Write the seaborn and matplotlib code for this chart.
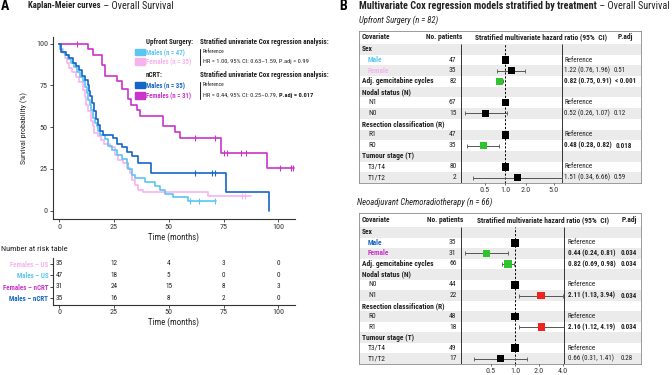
import numpy as np
import matplotlib
matplotlib.use('Agg')
import matplotlib.pyplot as plt
import seaborn as sns
from matplotlib import font_manager
from matplotlib.patches import Rectangle

sns.set_theme(style='ticks')
installed = {f.name for f in font_manager.fontManager.ttflist}
FONT = 'DejaVu Sans'
SCALE = 0.8
for cand in ['Liberation Sans Narrow', 'Roboto Condensed', 'Open Sans Condensed']:
    if cand in installed:
        FONT, SCALE = cand, 1.0
        break
plt.rcParams['font.family'] = [FONT, 'DejaVu Sans']
plt.rcParams['axes.edgecolor'] = '#333333'

# ---------------- data: Kaplan-Meier steps (months, survival %) ----------------
fus_time = [0, 0.4, 1.5, 2.5, 3.5, 4.5, 6.0, 7.5, 9.0, 10.7, 11.0, 11.7, 12.2, 13.2, 14.3,
            15.2, 15.8, 17.8, 19.0, 20.5, 23.2, 25.4, 26.9, 29.2, 30.8, 32.3, 33.1, 34.6,
            36.1, 38.4, 68.0]
fus_surv = [100, 97.1, 94.3, 91.4, 88.6, 85.7, 82.9, 80.0, 77.1, 76.4, 72.4, 68.3, 63.4, 59.4,
            53.4, 50.4, 46.4, 44.4, 42.4, 40.0, 38.4, 33.4, 30.4, 28.4, 25.4, 22.4, 18.4, 15.4,
            12.4, 11.4, 8.6]
fus_end = 87.4
fus_cens = [83.3, 84.8]

mus_time = [0, 0.3, 1.2, 2.5, 4.0, 5.3, 6.8, 7.9, 9.5, 10.7, 11.7, 12.5, 13.2, 14.0, 14.3,
            15.2, 15.5, 16.3, 17.1, 17.8, 18.6, 20.9, 22.4, 23.9, 26.2, 28.5, 30.8, 31.5,
            33.1, 34.6, 39.1, 43.7, 46.0, 48.3, 52.1, 58.9]
mus_surv = [100, 96.8, 95.3, 93.3, 90.7, 88.4, 86.3, 83.3, 80.3, 77.9, 74.3, 70.4, 66.4, 63.4,
            60.4, 58.4, 55.4, 52.4, 50.4, 47.4, 45.4, 42.8, 38.8, 36.4, 33.4, 30.8, 28.4, 24.8,
            21.4, 19.4, 17.4, 14.8, 12.4, 10.0, 8.0, 6.0]
mus_end = 71.5
mus_cens = [59.6, 63.9, 71.1]

fn_time = [0, 12.9, 15.2, 19.5, 21.0, 26.2, 28.6, 31.4, 32.9, 35.6, 36.8, 47.5, 52.8, 55.1,
           73.8, 94.7]
fn_surv = [100, 96.8, 93.5, 87.1, 80.6, 77.4, 72.8, 67.0, 63.0, 60.4, 56.4, 50.4, 46.8, 43.4,
           34.4, 25.8]
fn_end = 107.3
fn_cens = [8.2, 62.1, 71.1, 75.2, 76.4, 82.8, 85.3, 100.8, 105.7, 106.9]

mn_time = [0, 0.6, 3.1, 4.6, 6.1, 7.6, 8.8, 10.4, 11.9, 13.1, 13.7, 14.0, 14.9, 15.8, 16.8,
           17.7, 18.6, 19.8, 24.7, 26.2, 28.5, 30.8, 33.3, 35.8, 41.9, 76.1, 95.9]
mn_surv = [100, 95.3, 93.3, 91.4, 88.7, 86.7, 84.0, 80.8, 78.4, 75.4, 71.4, 68.6, 64.4, 59.4,
           54.8, 51.4, 47.4, 45.4, 43.4, 40.0, 38.0, 35.4, 32.8, 28.4, 22.8, 11.4, 0]
mn_end = 95.9
mn_cens = [62.0, 69.6, 71.1]

# number at risk table
risk_times = [0, 25, 50, 75, 100]
risk_labels = ['Females – US', 'Males – US', 'Females – nCRT', 'Males – nCRT']
risk_fus = [35, 12, 4, 3, 0]
risk_mus = [47, 18, 5, 0, 0]
risk_fn = [31, 24, 15, 8, 3]
risk_mn = [35, 16, 8, 2, 0]

# ---------------- data: multivariate Cox tables ----------------
cov_labels_us = ['Sex', 'Male', 'Female', 'Adj. gemcitabine cycles', 'Nodal status (N)', 'N1', 'N0',
                 'Resection classification (R)', 'R1', 'R0', 'Tumour stage (T)', 'T3/T4', 'T1/T2']
n_us = [None, 47, 35, 82, None, 67, 15, None, 47, 35, None, 80, 2]
hr_us = [None, 1, 1.22, 0.82, None, 1, 0.52, None, 1, 0.48, None, 1, 1.51]
lo_us = [None, None, 0.76, 0.75, None, None, 0.26, None, None, 0.28, None, None, 0.34]
hi_us = [None, None, 1.96, 0.91, None, None, 1.07, None, None, 0.82, None, None, 6.66]
p_us = [None, None, '0.51', '< 0.001', None, None, '0.12', None, None, '0.018', None, None, '0.59']

cov_labels_nc = ['Sex', 'Male', 'Female', 'Adj. gemcitabine cycles', 'Nodal status (N)', 'N0', 'N1',
                 'Resection classification (R)', 'R0', 'R1', 'Tumour stage (T)', 'T3/T4', 'T1/T2']
n_nc = [None, 35, 31, 66, None, 44, 22, None, 48, 18, None, 49, 17]
hr_nc = [None, 1, 0.44, 0.82, None, 1, 2.11, None, 1, 2.16, None, 1, 0.66]
lo_nc = [None, None, 0.24, 0.69, None, None, 1.13, None, None, 1.12, None, None, 0.31]
hi_nc = [None, None, 0.81, 0.98, None, None, 3.94, None, None, 4.19, None, None, 1.41]
p_nc = [None, None, '0.034', '0.034', None, None, '0.034', None, None, '0.034', None, None, '0.28']

C_FUS, C_MUS, C_FN, C_MN = '#f7b3ee', '#5cc5f2', '#c935c9', '#1565c8'
GREEN, RED = '#2dc42d', '#f02222'
TXT = '#222222'

W, H = 672, 375
fig = plt.figure(figsize=(W / 100, H / 100), dpi=100)
renderer = fig.canvas.get_renderer()


def box(x0, y0, x1, y1):
    return [x0 / W, 1 - y1 / H, (x1 - x0) / W, (y1 - y0) / H]


def ftext(x, y, s, size, **kw):
    kw.setdefault('va', 'center')
    kw.setdefault('color', TXT)
    return fig.text(x / W, 1 - y / H, s, fontsize=size * SCALE, **kw)


def ftext_parts(x, y, parts, **kw):
    for s, weight, size in parts:
        t = ftext(x, y, s, size, fontweight=weight, **kw)
        x += t.get_window_extent(renderer=renderer).width


# ---------------- panel A ----------------
ftext(1, 6, 'A', 10, fontweight='bold', color='black')
ftext_parts(28, 6, [('Kaplan-Meier curves', 'bold', 6.3), (' – Overall Survival', 'normal', 7.3)])

ax = fig.add_axes(box(52.7, 37, 294.7, 219.3))
curves = [(fus_time, fus_surv, fus_end, fus_cens, C_FUS),
          (mus_time, mus_surv, mus_end, mus_cens, C_MUS),
          (fn_time, fn_surv, fn_end, fn_cens, C_FN),
          (mn_time, mn_surv, mn_end, mn_cens, C_MN)]
for t, s, end, cens, col in curves:
    tt, ss = list(t), list(s)
    if end > tt[-1]:
        tt.append(end)
        ss.append(ss[-1])
    sns.lineplot(x=tt, y=ss, drawstyle='steps-post', color=col, lw=1.2, ax=ax,
                 estimator=None, sort=False, legend=False)
    idx = np.searchsorted(t, cens, side='right') - 1
    sns.scatterplot(x=cens, y=np.asarray(s)[idx], marker='|', s=16, color=col,
                    linewidth=0.8, ax=ax, legend=False)
ax.set_xlim(-3, 107.5)
ax.set_ylim(-5.2, 104)
ax.set_xticks(risk_times)
ax.set_yticks([0, 25, 50, 75, 100])
ax.tick_params(labelsize=5.8 * SCALE, length=2, width=0.6, pad=1.5, colors='#333333')
ax.set_xlabel('Time (months)', fontsize=6.3 * SCALE, labelpad=1.5, color=TXT)
ax.set_ylabel('Survival probability (%)', fontsize=5.8 * SCALE, labelpad=6, color=TXT)
for sp in ax.spines.values():
    sp.set_linewidth(0.8)
sns.despine(ax=ax)

# legend block inside the KM panel
leg = [(52, C_MUS, 'Males (n = 47)'), (61.3, C_FUS, 'Females (n = 35)'),
       (85, C_MN, 'Males (n = 35)'), (95.6, C_FN, 'Females (n = 31)')]
for y, col, lab in leg:
    fig.patches.append(Rectangle((135 / W, 1 - (y + 3.2) / H), 9.5 / W, 6.4 / H,
                                 color=col, transform=fig.transFigure))
    ftext(146, y, lab, 4.9, color=col, fontweight='bold')
ftext(146, 42, 'Upfront Surgery:', 5.0, fontweight='bold')
ftext(146, 75, 'nCRT:', 5.0, fontweight='bold')
for y in (42, 75):
    ftext(200, y, 'Stratified univariate Cox regression analysis:', 5.1, fontweight='bold')
for y0, y1 in ((48.5, 64.5), (81.5, 99)):
    fig.add_artist(plt.Line2D([200 / W, 200 / W], [1 - y0 / H, 1 - y1 / H], color='#222222',
                              lw=0.7, transform=fig.transFigure))
ftext(203, 51.5, 'Reference', 4.0)
ftext(203, 61.3, 'HR = 1.00, 95% CI: 0.63–1.59, P.adj = 0.99', 4.6)
ftext(203, 84.7, 'Reference', 4.0)
ftext_parts(203, 95.2, [('HR = 0.44, 95% CI: 0.25–0.79, ', 'normal', 4.6),
                        ('P.adj = 0.017', 'bold', 4.6)])

# number at risk table
ftext(1, 249, 'Number at risk table', 6)
rax = fig.add_axes(box(52.7, 257.5, 294.7, 304.5))
risk_rows = [risk_fus, risk_mus, risk_fn, risk_mn]
risk_cols = [C_FUS, C_MUS, C_FN, C_MN]
for i, row in enumerate(risk_rows):
    yrow = 3 - i
    for tm, v in zip(risk_times, row):
        rax.text(tm, yrow, str(v), ha='center', va='center', fontsize=5.2 * SCALE, color=TXT)
rax.set_xlim(-3, 107.5)
rax.set_ylim(-0.57, 3.57)
rax.set_xticks(risk_times)
rax.set_yticks([3, 2, 1, 0])
rax.set_yticklabels(risk_labels, fontweight='bold')
for lab, col in zip(rax.get_yticklabels(), risk_cols):
    lab.set_color(col)
rax.tick_params(axis='y', labelsize=5 * SCALE, length=2, width=0.6, pad=1.2)
rax.tick_params(axis='x', labelsize=5.8 * SCALE, length=2, width=0.6, pad=1.5, colors='#333333')
rax.set_xlabel('Time (months)', fontsize=6.3 * SCALE, labelpad=1.5, color=TXT)
for sp in rax.spines.values():
    sp.set_linewidth(0.8)
sns.despine(ax=rax)

# ---------------- panel B ----------------
ftext(339, 6, 'B', 10, fontweight='bold', color='black')
ftext_parts(359, 6, [('Multivariate Cox regression models stratified by treatment', 'bold', 7.3),
                     (' – Overall Survival', 'normal', 7.3)])


def draw_table(labels, n, hr, lo, hi, p, top, first, last, right, fright, xlim, ticks,
               male_col, fem_col, est_x, p_x, head_pos):
    centers = np.linspace(first, last, len(labels))
    rh = centers[1] - centers[0]
    head_bot = first - rh / 2
    bottom = last + rh / 2
    left = 358.7
    tax = fig.add_axes(box(left, top, right, bottom))
    tax.set_xlim(left, right)
    tax.set_ylim(bottom, top)
    tax.set_xticks([])
    tax.set_yticks([])
    for sp in tax.spines.values():
        sp.set_color('#8a8a8a')
        sp.set_linewidth(0.6)
    for i, yc in enumerate(centers):
        if i % 2 == 0:
            tax.axhspan(yc - rh / 2, yc + rh / 2, color='#ebebeb', lw=0)
    tax.vlines([461.3, fright], head_bot, bottom, color='#333333', lw=0.7)
    hy = (top + head_bot) / 2
    fs = 5.4 * SCALE
    fe = 5.0 * SCALE
    tax.text(head_pos[0], hy, 'Covariate', fontsize=fs, fontweight='bold', va='center', color=TXT)
    tax.text(head_pos[1], hy, 'No. patients', fontsize=fs, fontweight='bold', va='center',
             ha='right', color=TXT)
    tax.text(head_pos[2], hy, 'Stratified multivariate hazard ratio (95%  CI)', fontsize=fs,
             fontweight='bold', va='center', color=TXT)
    tax.text(head_pos[3], hy, 'P.adj', fontsize=fs, fontweight='bold', va='center', color=TXT)

    cats = []
    for i, yc in enumerate(centers):
        lab = labels[i]
        if n[i] is None or lab.startswith('Adj'):
            tax.text(362, yc, lab, fontsize=fs, fontweight='bold', va='center', color=TXT)
        else:
            col = {'Male': male_col, 'Female': fem_col}.get(lab, TXT)
            wt = 'bold' if lab in ('Male', 'Female') else 'normal'
            tax.text(368, yc, lab, fontsize=fs, fontweight=wt, va='center', color=col)
        if n[i] is not None:
            tax.text(456.5, yc, str(n[i]), fontsize=fs, va='center', ha='right', color=TXT)
            if lo[i] is None:
                tax.text(est_x, yc, 'Reference', fontsize=fe, va='center', color=TXT)
                cats.append('ns')
            else:
                pv = float(p[i].replace('<', '').strip())
                sig = pv < 0.05
                wt = 'bold' if sig else 'normal'
                et = tax.text(est_x, yc, f'{hr[i]:.2f} ({lo[i]:.2f}, {hi[i]:.2f})', fontsize=fe,
                              fontweight=wt, va='center', color=TXT)
                px = p_x
                if px is None:
                    px = est_x + et.get_window_extent(renderer=renderer).width + 3
                tax.text(px, yc, p[i], fontsize=fe, fontweight=wt, va='center', color=TXT)
                cats.append(('down' if hr[i] < 1 else 'up') if sig else 'ns')

    fax = fig.add_axes(box(461.3, head_bot, fright, bottom))
    fax.patch.set_alpha(0)
    fax.set_xscale('log')
    fax.set_xlim(*xlim)
    fax.set_ylim(bottom, head_bot)
    fax.axvline(1, ls=(0, (2.2, 1.8)), color='black', lw=0.7)
    keep = [i for i in range(len(labels)) if hr[i] is not None]
    ci = [i for i in keep if lo[i] is not None]
    fax.errorbar([hr[i] for i in ci], centers[ci],
                 xerr=[[hr[i] - lo[i] for i in ci], [hi[i] - hr[i] for i in ci]],
                 fmt='none', ecolor='#555555', elinewidth=0.7, capsize=1.3, capthick=0.6)
    sns.scatterplot(x=[hr[i] for i in keep], y=centers[keep], hue=cats, marker='s', s=28,
                    palette={'ns': 'black', 'down': GREEN, 'up': RED}, linewidth=0,
                    ax=fax, legend=False, zorder=5)
    fax.set_xticks(ticks)
    fax.set_xticklabels([f'{v:.1f}' for v in ticks])
    fax.minorticks_off()
    fax.set_yticks([])
    fax.set_xlabel('')
    fax.set_ylabel('')
    fax.tick_params(axis='x', labelsize=5.8 * SCALE, length=1.5, width=0.5, pad=1.5,
                    colors='#333333')
    for sp in fax.spines.values():
        sp.set_visible(False)


ftext(359.3, 20.7, 'Upfront Surgery (n = 82)', 6.2, style='italic')
draw_table(cov_labels_us, n_us, hr_us, lo_us, hi_us, p_us, top=31, first=49.3, last=177.7,
           right=640.5, fright=562, xlim=(0.23, 6.63), ticks=[0.5, 1.0, 2.0, 5.0],
           male_col=C_MUS, fem_col=C_FUS, est_x=564.5, p_x=None,
           head_pos=(362, 462, 475.5, 617.5))

ftext(356.7, 202.7, 'Neoadjuvant Chemoradiotherapy (n = 66)', 6.2, style='italic')
draw_table(cov_labels_nc, n_nc, hr_nc, lo_nc, hi_nc, p_nc, top=213.3, first=232.3, last=358.7,
           right=641, fright=564.3, xlim=(0.213, 4.13), ticks=[0.5, 1.0, 2.0, 4.0],
           male_col=C_MN, fem_col=C_FN, est_x=567.5, p_x=621,
           head_pos=(362, 463.5, 477, 622))

fig.savefig('out.png', dpi=100)
